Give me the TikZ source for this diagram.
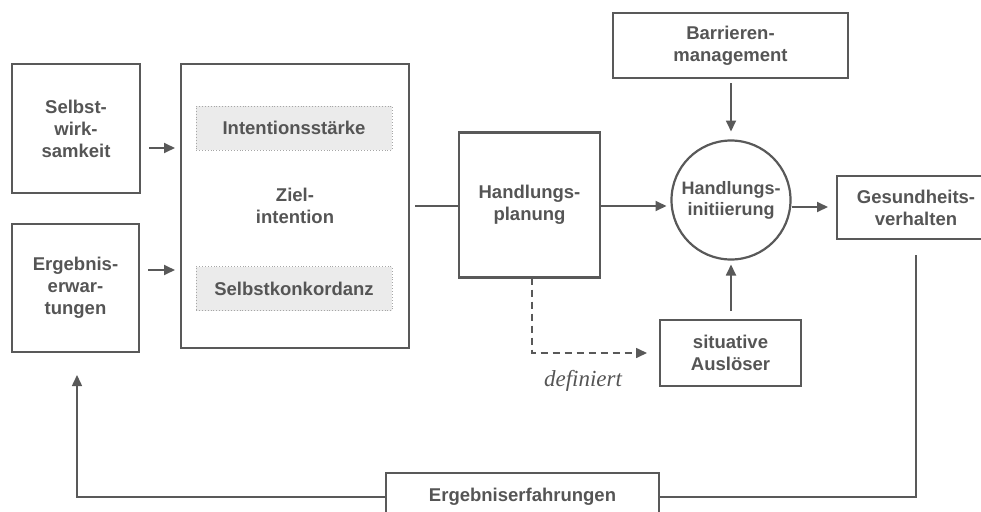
\documentclass[tikz,border=0pt]{standalone}
\usepackage{fontspec}
\setmainfont{Liberation Sans}
\newfontfamily\defserif{Liberation Serif}
\usetikzlibrary{arrows.meta,calc}
\definecolor{ln}{HTML}{595959}
\definecolor{tx}{HTML}{555555}
\definecolor{dotfill}{HTML}{EBEBEB}
\begin{document}
\begin{tikzpicture}[x=1pt,y=-1pt,
  box/.style={draw=ln, line width=2.2pt, rectangle, inner sep=0pt, outer sep=0pt,
    align=center, text=tx, font=\fontsize{18.5}{22}\selectfont\bfseries},
  dotbox/.style={draw=gray!70, dotted, line width=0.9pt, fill=dotfill, rectangle,
    inner sep=0pt, outer sep=0pt, minimum width=196pt, minimum height=44pt,
    text=tx, font=\fontsize{18.5}{22}\selectfont\bfseries},
  conn/.style={draw=ln, line width=1.8pt},
  arr/.style={conn, -{Triangle[length=11pt,width=10pt]}},
  dasharr/.style={draw=ln, line width=1.6pt, dash pattern=on 7pt off 5pt,
    -{Triangle[length=11pt,width=10pt]}},
  fb/.style={draw=ln, line width=1.5pt},
  fbarr/.style={fb, -{Triangle[length=11pt,width=10pt]}}]
\useasboundingbox (0,0) rectangle (981,511);
\clip (0,0) rectangle (981,511);

% nodes
\node[box, minimum width=128pt, minimum height=129pt] (sw) at (76,128.5) {Selbst-\\wirk-\\samkeit};
\node[box, minimum width=127pt, minimum height=128pt] (ee) at (75.5,288) {Ergebnis-\\erwar-\\tungen};
\node[box, minimum width=228pt, minimum height=284pt] (zi) at (295,206) {Ziel-\\intention};
\node[dotbox] (is) at (294,128) {Intentionsstärke};
\node[dotbox] (sk) at (294,288.5) {Selbstkonkordanz};
\node[box, minimum width=141pt, minimum height=145pt] (hp) at (529.5,205) {\raisebox{4pt}{\begin{tabular}{@{}c@{}}Handlungs-\\planung\end{tabular}}};
\node[box, circle, minimum size=119pt, font=\fontsize{18}{21}\selectfont\bfseries] (ci) at (731,200) {Handlungs-\\initiierung};
\node[box, minimum width=235pt, minimum height=65pt] (ba) at (730.5,45.5) {Barrieren-\\management};
\node[box, minimum width=141pt, minimum height=66pt] (au) at (730.5,353) {situative\\Auslöser};
\node[box, minimum width=158pt, minimum height=63pt] (ge) at (916,207.5) {Gesundheits-\\verhalten};
\node[box, minimum width=273pt, minimum height=48pt] (ef) at (522.5,497) {\raisebox{4pt}{Ergebniserfahrungen}};
\node[font=\defserif\itshape\fontsize{23}{23}\selectfont, text=tx] (def) at (583,381) {definiert};

% connectors
\coordinate (a1) at ([yshift=-19.5pt]sw.east);
\coordinate (a2) at ([yshift=18pt]ee.east);
\draw[arr, shorten <=9pt, shorten >=6pt] (a1) -- (a1 -| zi.west);
\draw[arr, shorten <=9pt, shorten >=6pt] (a2) -- (a2 -| zi.west);
\draw[conn, shorten <=6pt] (zi.east) -- (zi.east -| hp.west);
\coordinate (a3) at ([yshift=-1pt]hp.east);
\draw[arr, shorten >=5pt] (a3) -- (a3 -| ci.west);
\draw[arr, shorten <=5pt, shorten >=9pt] (ci.north |- ba.south) -- (ci.north);
\draw[arr, shorten <=9pt, shorten >=5pt] (ci.south |- au.north) -- (ci.south);
\coordinate (a4) at ([yshift=-7pt]ci.east);
\draw[arr, shorten <=1pt, shorten >=9pt] (a4) -- (a4 -| ge.west);
\draw[dasharr, shorten >=13pt] ([xshift=2.5pt]hp.south) |- (au.west);
\draw[fb, shorten <=16pt] (ge.south) |- (ef.east);
\draw[fbarr, shorten >=23pt] (ef.west) -| ([xshift=1.5pt]ee.south);
\end{tikzpicture}
\end{document}
